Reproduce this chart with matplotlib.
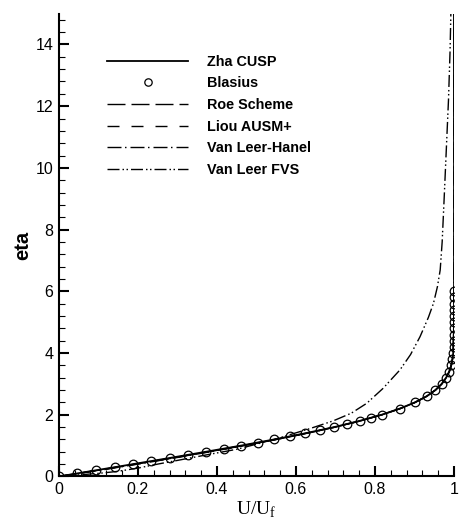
import matplotlib
matplotlib.use("Agg")
import matplotlib.pyplot as plt
from matplotlib.ticker import MultipleLocator, FormatStrFormatter
from matplotlib.lines import Line2D

# ---------------- data ----------------
blasius_eta = [0.0, 0.1, 0.2, 0.3, 0.4, 0.5, 0.6, 0.7, 0.8, 0.9, 1.0,
               1.1, 1.2, 1.3, 1.4, 1.5, 1.6, 1.7, 1.8, 1.9, 2.0,
               2.2, 2.4, 2.6, 2.8, 3.0, 3.2, 3.4, 3.6, 3.8, 4.0,
               4.2, 4.4, 4.6, 4.8, 5.0, 5.2, 5.4, 5.6, 5.8, 6.0]
blasius_u = [0.0, 0.047, 0.094, 0.141, 0.188, 0.234, 0.281, 0.327, 0.372, 0.417, 0.461,
             0.504, 0.545, 0.586, 0.624, 0.661, 0.697, 0.730, 0.761, 0.790, 0.817,
             0.863, 0.901, 0.931, 0.953, 0.969, 0.980, 0.988, 0.993, 0.996, 0.998,
             0.999, 0.999, 1.000, 1.000, 1.000, 1.000, 1.000, 1.000, 1.000, 1.000]

zha_eta = [0.0, 0.2, 0.4, 0.6, 0.8, 1.0, 1.2, 1.4, 1.6, 1.8, 2.0, 2.2, 2.4,
           2.6, 2.8, 3.0, 3.2, 3.4, 3.6, 3.8, 4.0, 4.5, 5.0, 6.0, 15.0]
zha_u = [0.0, 0.094, 0.188, 0.281, 0.372, 0.461, 0.545, 0.624, 0.697, 0.761, 0.817, 0.863, 0.901,
         0.931, 0.953, 0.969, 0.980, 0.988, 0.993, 0.996, 0.998, 0.999, 1.000, 1.000, 1.000]

roe_eta = [0.0, 0.2, 0.4, 0.6, 0.8, 1.0, 1.2, 1.4, 1.6, 1.8, 2.0, 2.2, 2.4,
           2.6, 2.8, 3.0, 3.2, 3.4, 3.6, 3.8, 4.0, 4.5, 5.0, 6.0, 15.0]
roe_u = [0.0, 0.100, 0.196, 0.290, 0.380, 0.468, 0.550, 0.628, 0.699, 0.763, 0.818, 0.864, 0.902,
         0.931, 0.953, 0.969, 0.980, 0.988, 0.993, 0.996, 0.998, 0.999, 1.000, 1.000, 1.000]

liou_eta = roe_eta
liou_u = [0.0, 0.098, 0.193, 0.287, 0.377, 0.465, 0.548, 0.626, 0.698, 0.762, 0.818, 0.864, 0.901,
          0.931, 0.953, 0.969, 0.980, 0.988, 0.993, 0.996, 0.998, 0.999, 1.000, 1.000, 1.000]

hanel_eta = roe_eta
hanel_u = [0.0, 0.104, 0.200, 0.293, 0.383, 0.470, 0.552, 0.629, 0.700, 0.763, 0.818, 0.864, 0.902,
           0.931, 0.953, 0.969, 0.980, 0.988, 0.993, 0.996, 0.998, 0.999, 1.000, 1.000, 1.000]

fvs_u = [0.0, 0.05, 0.10, 0.146, 0.20, 0.25, 0.30, 0.374, 0.45, 0.54, 0.635, 0.694, 0.74,
         0.779, 0.82, 0.863, 0.89, 0.914, 0.935, 0.948, 0.958, 0.965, 0.970, 0.975, 0.986, 0.990, 0.992]
fvs_eta = [0.0, 0.05, 0.10, 0.16, 0.27, 0.40, 0.52, 0.70, 0.88, 1.18, 1.55, 1.80, 2.05,
           2.37, 2.85, 3.45, 3.95, 4.53, 5.15, 5.61, 6.15, 6.69, 7.6, 9.0, 12.2, 13.8, 15.0]

labels = ["Zha CUSP", "Blasius", "Roe Scheme", "Liou AUSM+", "Van Leer-Hanel", "Van Leer FVS"]
x_label = "U/U$_{\\mathregular{f}}$"
y_label = "eta"

# ---------------- figure ----------------
plt.rcParams['font.family'] = ['Liberation Sans', 'DejaVu Sans']
fig = plt.figure(figsize=(4.6, 5.23), dpi=100)
ax = fig.add_axes([0.128, 0.089, 0.859, 0.885])

px = 0.72  # points per pixel at 100 dpi
lw = 1.0
ax.plot(zha_u, zha_eta, color='black', lw=1.3, label=labels[0])
ax.plot(blasius_u, blasius_eta, linestyle='none', marker='o', markersize=6.2,
        markerfacecolor='none', markeredgecolor='black', markeredgewidth=0.9, label=labels[1])
ax.plot(roe_u, roe_eta, color='black', lw=lw,
        linestyle=(0, (18 * px, 6 * px)), label=labels[2])
ax.plot(liou_u, liou_eta, color='black', lw=lw,
        linestyle=(0, (12 * px, 12 * px)), label=labels[3])
ax.plot(hanel_u, hanel_eta, color='black', lw=lw,
        linestyle=(0, (14 * px, 3.5 * px, 1.5 * px, 4 * px)), label=labels[4])
ax.plot(fvs_u, fvs_eta, color='black', lw=lw,
        linestyle=(0, (12 * px, 3 * px, 1.5 * px, 2.5 * px, 1.5 * px, 3 * px)), label=labels[5])

ax.set_xlim(0, 1)
ax.set_ylim(0, 15)
ax.xaxis.set_major_locator(MultipleLocator(0.2))
ax.xaxis.set_minor_locator(MultipleLocator(0.04))
ax.yaxis.set_major_locator(MultipleLocator(2))
ax.yaxis.set_minor_locator(MultipleLocator(0.4))
ax.xaxis.set_major_formatter(FormatStrFormatter('%g'))
ax.yaxis.set_major_formatter(FormatStrFormatter('%g'))

for s in ['top', 'right']:
    ax.spines[s].set_visible(False)
for s in ['left', 'bottom']:
    ax.spines[s].set_linewidth(1.5)

ax.tick_params(which='major', direction='in', length=7, width=1.5, labelsize=11.5, pad=4)
ax.tick_params(which='minor', direction='in', length=4, width=0.8)
ax.tick_params(top=False, right=False, which='both')

ax.set_xlabel(x_label, fontfamily='Liberation Serif', fontsize=14, labelpad=2)
ax.set_ylabel(y_label, fontweight='bold', fontsize=14.5, labelpad=2)

leg = ax.legend(loc='upper left', bbox_to_anchor=(0.123, 0.911), frameon=False,
                handlelength=5.6, handletextpad=1.3, labelspacing=0.53,
                prop={'weight': 'bold', 'size': 10.4}, borderaxespad=0, borderpad=0)
for h in leg.legend_handles:
    if isinstance(h, Line2D) and h.get_marker() == 'o':
        h.set_markersize(5.3)

fig.savefig('out.png', dpi=100)
